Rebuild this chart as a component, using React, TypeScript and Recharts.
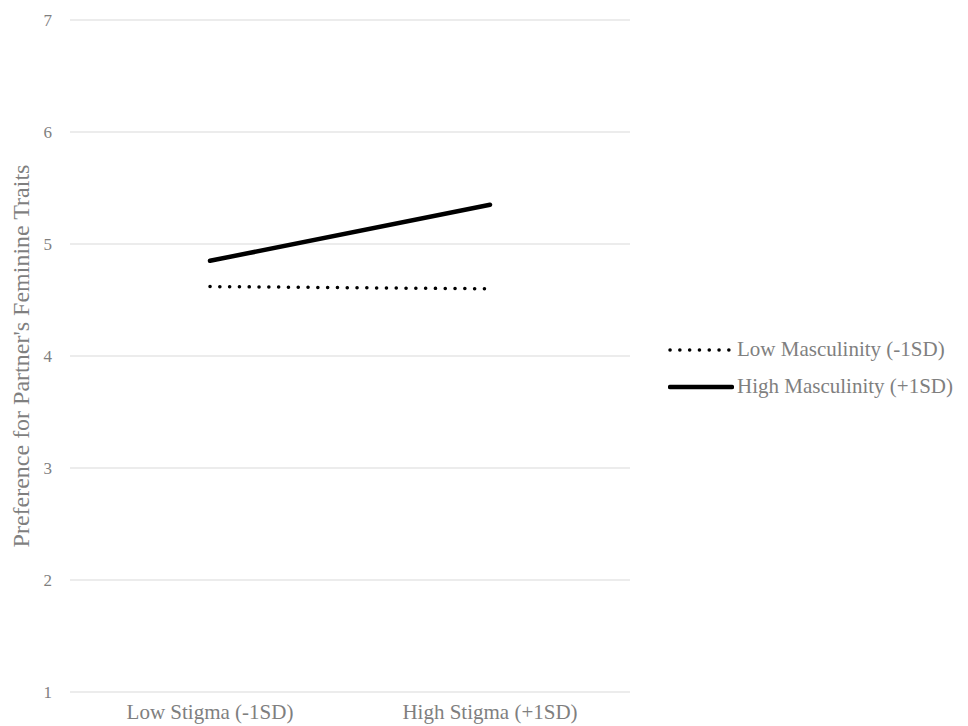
import { LineChart, Line, XAxis, YAxis, CartesianGrid, Label } from "recharts";

const categories = ["Low Stigma (-1SD)", "High Stigma (+1SD)"];
const lowMasculinity = [4.62, 4.6];
const highMasculinity = [4.85, 5.35];
const yTicks = [1, 2, 3, 4, 5, 6, 7];

const seriesInfo = [
  { key: "low", name: "Low Masculinity (-1SD)", dotted: true },
  { key: "high", name: "High Masculinity (+1SD)", dotted: false },
];

const data = categories.map((name, i) => ({
  name,
  low: lowMasculinity[i],
  high: highMasculinity[i],
}));

const FONT = "'Liberation Serif', 'DejaVu Serif', serif";
const TEXT = "#7f7f7f";

function LegendBox() {
  return (
    <div
      style={{
        position: "absolute",
        left: 668,
        top: 331,
        fontFamily: FONT,
        fontSize: 21,
        color: TEXT,
        whiteSpace: "nowrap",
      }}
    >
      {seriesInfo.map((s) => (
        <div
          key={s.key}
          style={{ display: "flex", alignItems: "center", height: 37 }}
        >
          <svg width={66} height={10} style={{ marginRight: 3 }}>
            <line
              x1={2}
              y1={5}
              x2={64}
              y2={5}
              stroke="#000"
              strokeWidth={s.dotted ? 3.5 : 4.5}
              strokeLinecap="round"
              strokeDasharray={s.dotted ? "0.1 9.7" : undefined}
            />
          </svg>
          <span>{s.name}</span>
        </div>
      ))}
    </div>
  );
}

export default function App() {
  return (
    <div
      style={{
        position: "absolute",
        left: 0,
        top: 0,
        width: 968,
        height: 726,
        background: "#fff",
      }}
    >
      <LineChart
        width={968}
        height={726}
        data={data}
        margin={{ top: 20, right: 338, bottom: 4, left: 0 }}
      >
        <CartesianGrid vertical={false} stroke="#d9d9d9" strokeWidth={1} />
        <XAxis
          dataKey="name"
          axisLine={false}
          tickLine={false}
          tickSize={0}
          tickMargin={12}
          height={30}
          padding={{ left: 140, right: 140 }}
          tick={{ fill: TEXT, fontSize: 21, fontFamily: FONT }}
        />
        <YAxis
          domain={[1, 7]}
          ticks={yTicks}
          axisLine={false}
          tickLine={false}
          tickSize={0}
          tickMargin={18}
          width={70}
          tick={{ fill: TEXT, fontSize: 17, fontFamily: FONT }}
        >
          <Label
            value="Preference for Partner's Feminine Traits"
            angle={-90}
            position="insideLeft"
            offset={20}
            style={{
              fill: TEXT,
              fontSize: 24,
              fontFamily: FONT,
              textAnchor: "middle",
            }}
          />
        </YAxis>
        <Line
          dataKey="low"
          name={seriesInfo[0].name}
          stroke="#000"
          strokeWidth={3.5}
          strokeDasharray="0.1 9.7"
          strokeLinecap="round"
          dot={false}
          activeDot={false}
          isAnimationActive={false}
        />
        <Line
          dataKey="high"
          name={seriesInfo[1].name}
          stroke="#000"
          strokeWidth={4.5}
          strokeLinecap="round"
          dot={false}
          activeDot={false}
          isAnimationActive={false}
        />
      </LineChart>
      <LegendBox />
    </div>
  );
}
